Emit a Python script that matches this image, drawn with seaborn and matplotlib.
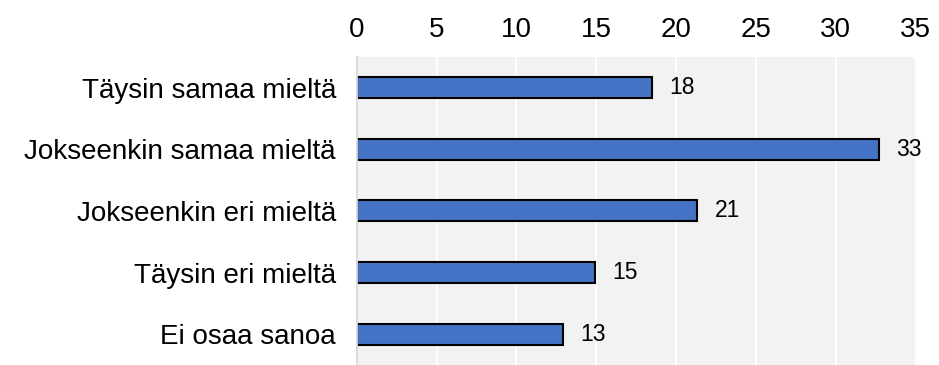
import pandas as pd
import matplotlib
matplotlib.use('Agg')
import matplotlib.pyplot as plt
import seaborn as sns

categories = ['Täysin samaa mieltä', 'Jokseenkin samaa mieltä', 'Jokseenkin eri mieltä',
              'Täysin eri mieltä', 'Ei osaa sanoa']
values = [18.5, 32.7, 21.3, 14.9, 12.9]
labels = ['18', '33', '21', '15', '13']
ticks = [0, 5, 10, 15, 20, 25, 30, 35]

df = pd.DataFrame({'cat': categories, 'val': values})

sns.set_style('white')
plt.rcParams['font.family'] = ['Liberation Sans', 'DejaVu Sans']

fig = plt.figure(figsize=(9.39, 3.65), dpi=100)
ax = fig.add_axes([0.380, 0.0, 0.595, 0.844])
ax.set_facecolor('#f2f2f2')

sns.barplot(data=df, x='val', y='cat', orient='h', color='#4472c4',
            edgecolor='black', linewidth=1.5, width=0.34, saturation=1, ax=ax)

for i, (v, lab) in enumerate(zip(values, labels)):
    ax.text(v + 1.1, i, lab, va='center', ha='left', fontsize=16.5, color='black')

ax.set_xlim(0, 35)
ax.set_ylim(4.5, -0.5)
ax.set_xticks(ticks)
ax.xaxis.tick_top()
ax.tick_params(axis='x', length=0, pad=10, labelsize=20, colors='black')
ax.tick_params(axis='y', length=0, pad=15, labelsize=20, colors='black')
ax.grid(axis='x', color='white', linewidth=1.3)
ax.set_axisbelow(True)
for s in ['top', 'right', 'bottom']:
    ax.spines[s].set_visible(False)
ax.spines['left'].set_color('#d9d9d9')
ax.spines['left'].set_linewidth(1.3)
ax.set_xlabel('')
ax.set_ylabel('')

fig.savefig('out.png', dpi=100)
